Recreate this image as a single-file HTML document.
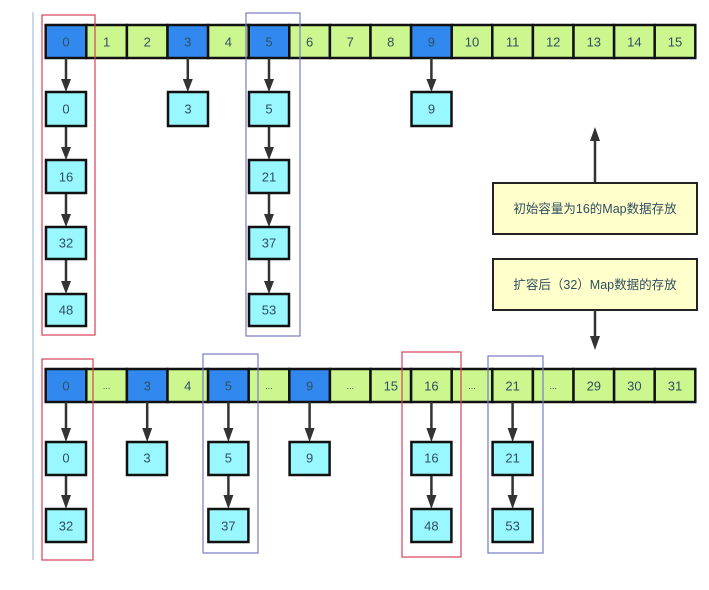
<!DOCTYPE html>
<html><head><meta charset="utf-8"><style>
html,body{margin:0;padding:0;background:#fff;}
svg{display:block;}
text{font-family:"Liberation Sans","Noto Sans CJK SC",sans-serif;font-size:13px;fill:#2f4f5f;text-anchor:middle;dominant-baseline:central;}
.c{stroke:#111;stroke-width:2.5;}
.b{fill:#3189f0;}
.g{fill:#ccf78f;}
.n{fill:#99f7ff;stroke:#111;stroke-width:2.5;}
.a{stroke:#333;stroke-width:2.5;}
</style></head><body>
<svg width="709" height="590" viewBox="0 0 709 590" xmlns="http://www.w3.org/2000/svg">
<defs>
<marker id="ah" markerWidth="8" markerHeight="10" refX="4" refY="10" orient="auto" markerUnits="userSpaceOnUse" viewBox="0 0 8 10"></marker>
</defs>
<line x1="33" y1="12" x2="33" y2="560" stroke="#c9dbe8" stroke-width="2"/>

<!-- TOP ROW -->
<g>
<rect x="45.7" y="25" width="40.6" height="33" class="b c"/>
<rect x="86.3" y="25" width="40.6" height="33" class="g c"/>
<rect x="126.9" y="25" width="40.6" height="33" class="g c"/>
<rect x="167.5" y="25" width="40.6" height="33" class="b c"/>
<rect x="208.1" y="25" width="40.6" height="33" class="g c"/>
<rect x="248.7" y="25" width="40.6" height="33" class="b c"/>
<rect x="289.3" y="25" width="40.6" height="33" class="g c"/>
<rect x="329.9" y="25" width="40.6" height="33" class="g c"/>
<rect x="370.5" y="25" width="40.6" height="33" class="g c"/>
<rect x="411.1" y="25" width="40.6" height="33" class="b c"/>
<rect x="451.7" y="25" width="40.6" height="33" class="g c"/>
<rect x="492.3" y="25" width="40.6" height="33" class="g c"/>
<rect x="532.9" y="25" width="40.6" height="33" class="g c"/>
<rect x="573.5" y="25" width="40.6" height="33" class="g c"/>
<rect x="614.1" y="25" width="40.6" height="33" class="g c"/>
<rect x="654.7" y="25" width="40.6" height="33" class="g c"/>
<text x="66" y="42">0</text><text x="106.6" y="42">1</text><text x="147.2" y="42">2</text><text x="187.8" y="42">3</text>
<text x="228.4" y="42">4</text><text x="269" y="42">5</text><text x="309.6" y="42">6</text><text x="350.2" y="42">7</text>
<text x="390.8" y="42">8</text><text x="431.4" y="42">9</text><text x="472" y="42">10</text><text x="512.6" y="42">11</text>
<text x="553.2" y="42">12</text><text x="593.8" y="42">13</text><text x="634.4" y="42">14</text><text x="675" y="42">15</text>
</g>

<!-- top arrows -->
<g class="a">
<line x1="66" y1="58" x2="66" y2="82"/><line x1="66" y1="126" x2="66" y2="150"/><line x1="66" y1="193" x2="66" y2="217"/><line x1="66" y1="259" x2="66" y2="284"/>
<line x1="187.8" y1="58" x2="187.8" y2="82"/>
<line x1="269" y1="58" x2="269" y2="82"/><line x1="269" y1="126" x2="269" y2="150"/><line x1="269" y1="193" x2="269" y2="217"/><line x1="269" y1="259" x2="269" y2="284"/>
<line x1="431.4" y1="58" x2="431.4" y2="82"/>
</g>
<g fill="#333">
<polygon points="61,79 71,79 66,92"/><polygon points="61,147 71,147 66,160"/><polygon points="61,214 71,214 66,227"/><polygon points="61,281 71,281 66,294"/>
<polygon points="182.8,79 192.8,79 187.8,92"/>
<polygon points="264,79 274,79 269,92"/><polygon points="264,147 274,147 269,160"/><polygon points="264,214 274,214 269,227"/><polygon points="264,281 274,281 269,294"/>
<polygon points="426.4,79 436.4,79 431.4,92"/>
</g>
<!-- top nodes -->
<rect x="46" y="92" width="40" height="34" class="n"/><text x="66" y="109">0</text>
<rect x="46" y="160" width="40" height="33" class="n"/><text x="66" y="177">16</text>
<rect x="46" y="227" width="40" height="32" class="n"/><text x="66" y="243">32</text>
<rect x="46" y="294" width="40" height="32" class="n"/><text x="66" y="310">48</text>
<rect x="168" y="92" width="40" height="34" class="n"/><text x="188" y="109">3</text>
<rect x="249" y="92" width="40" height="34" class="n"/><text x="269" y="109">5</text>
<rect x="249" y="160" width="40" height="33" class="n"/><text x="269" y="177">21</text>
<rect x="249" y="227" width="40" height="32" class="n"/><text x="269" y="243">37</text>
<rect x="249" y="294" width="40" height="32" class="n"/><text x="269" y="310">53</text>
<rect x="411.5" y="92" width="40" height="34" class="n"/><text x="431.5" y="109">9</text>

<rect x="42" y="15" width="53" height="320" fill="none" stroke="#d9405a" stroke-width="1.2"/>
<rect x="246" y="13" width="54" height="323" fill="none" stroke="#7a7ac8" stroke-width="1.2"/>

<!-- right side -->
<line x1="595" y1="183" x2="595" y2="140" class="a"/>
<polygon points="590,141 600,141 595,127" fill="#333"/>
<rect x="493" y="183" width="204" height="51" fill="#ffffcc" stroke="#222" stroke-width="2"/>
<text x="595" y="209" style="font-size:12.5px">初始容量为16的Map数据存放</text>
<rect x="493" y="259" width="204" height="51" fill="#ffffcc" stroke="#222" stroke-width="2"/>
<text x="595" y="285" style="font-size:12.5px">扩容后（32）Map数据的存放</text>
<line x1="595" y1="310" x2="595" y2="337" class="a"/>
<polygon points="590,336 600,336 595,350" fill="#333"/>

<!-- BOTTOM ROW -->
<g>
<rect x="45.7" y="369" width="40.6" height="33" class="b c"/>
<rect x="86.3" y="369" width="40.6" height="33" class="g c"/>
<rect x="126.9" y="369" width="40.6" height="33" class="b c"/>
<rect x="167.5" y="369" width="40.6" height="33" class="g c"/>
<rect x="208.1" y="369" width="40.6" height="33" class="b c"/>
<rect x="248.7" y="369" width="40.6" height="33" class="g c"/>
<rect x="289.3" y="369" width="40.6" height="33" class="b c"/>
<rect x="329.9" y="369" width="40.6" height="33" class="g c"/>
<rect x="370.5" y="369" width="40.6" height="33" class="g c"/>
<rect x="411.1" y="369" width="40.6" height="33" class="g c"/>
<rect x="451.7" y="369" width="40.6" height="33" class="g c"/>
<rect x="492.3" y="369" width="40.6" height="33" class="g c"/>
<rect x="532.9" y="369" width="40.6" height="33" class="g c"/>
<rect x="573.5" y="369" width="40.6" height="33" class="g c"/>
<rect x="614.1" y="369" width="40.6" height="33" class="g c"/>
<rect x="654.7" y="369" width="40.6" height="33" class="g c"/>
<text x="66" y="386">0</text><text x="106.6" y="386" style="font-size:9px">...</text><text x="147.2" y="386">3</text><text x="187.8" y="386">4</text>
<text x="228.4" y="386">5</text><text x="269" y="386" style="font-size:9px">...</text><text x="309.6" y="386">9</text><text x="350.2" y="386" style="font-size:9px">...</text>
<text x="390.8" y="386">15</text><text x="431.4" y="386">16</text><text x="472" y="386" style="font-size:9px">...</text><text x="512.6" y="386">21</text>
<text x="553.2" y="386" style="font-size:9px">...</text><text x="593.8" y="386">29</text><text x="634.4" y="386">30</text><text x="675" y="386">31</text>
</g>
<g class="a">
<line x1="66" y1="402" x2="66" y2="430"/><line x1="66" y1="475" x2="66" y2="497"/>
<line x1="147.2" y1="402" x2="147.2" y2="430"/>
<line x1="228.4" y1="402" x2="228.4" y2="430"/><line x1="228.4" y1="475" x2="228.4" y2="497"/>
<line x1="309.6" y1="402" x2="309.6" y2="430"/>
<line x1="431.4" y1="402" x2="431.4" y2="430"/><line x1="431.4" y1="475" x2="431.4" y2="497"/>
<line x1="512.6" y1="402" x2="512.6" y2="430"/><line x1="512.6" y1="475" x2="512.6" y2="497"/>
</g>
<g fill="#333">
<polygon points="61,428 71,428 66,442"/><polygon points="61,495 71,495 66,509"/>
<polygon points="142.2,428 152.2,428 147.2,442"/>
<polygon points="223.4,428 233.4,428 228.4,442"/><polygon points="223.4,495 233.4,495 228.4,509"/>
<polygon points="304.6,428 314.6,428 309.6,442"/>
<polygon points="426.4,428 436.4,428 431.4,442"/><polygon points="426.4,495 436.4,495 431.4,509"/>
<polygon points="507.6,428 517.6,428 512.6,442"/><polygon points="507.6,495 517.6,495 512.6,509"/>
</g>
<rect x="46" y="442" width="40" height="33" class="n"/><text x="66" y="458">0</text>
<rect x="46" y="509" width="40" height="33" class="n"/><text x="66" y="526">32</text>
<rect x="127" y="442" width="40" height="33" class="n"/><text x="147" y="458">3</text>
<rect x="208.4" y="442" width="40" height="33" class="n"/><text x="228.4" y="458">5</text>
<rect x="208.4" y="509" width="40" height="33" class="n"/><text x="228.4" y="526">37</text>
<rect x="289.6" y="442" width="40" height="33" class="n"/><text x="309.6" y="458">9</text>
<rect x="411.4" y="442" width="40" height="33" class="n"/><text x="431.4" y="458">16</text>
<rect x="411.4" y="509" width="40" height="33" class="n"/><text x="431.4" y="526">48</text>
<rect x="492.6" y="442" width="40" height="33" class="n"/><text x="512.6" y="458">21</text>
<rect x="492.6" y="509" width="40" height="33" class="n"/><text x="512.6" y="526">53</text>

<rect x="42" y="359" width="51" height="201" fill="none" stroke="#d9405a" stroke-width="1.2"/>
<rect x="203" y="354" width="55" height="199" fill="none" stroke="#7a7ac8" stroke-width="1.2"/>
<rect x="402" y="352" width="59" height="205" fill="none" stroke="#d9405a" stroke-width="1.2"/>
<rect x="488" y="356" width="55" height="197" fill="none" stroke="#7a7ac8" stroke-width="1.2"/>
</svg>
</body></html>
